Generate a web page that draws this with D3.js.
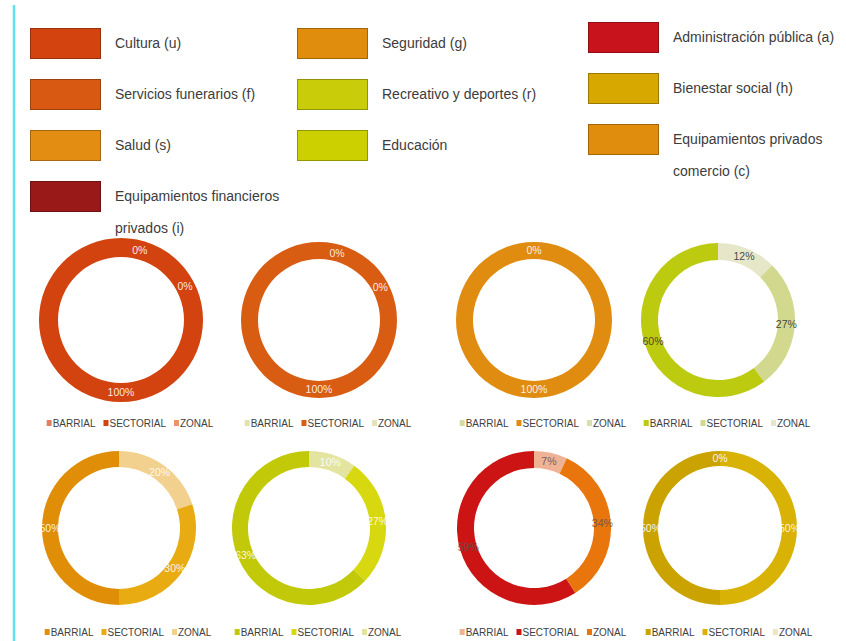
<!DOCTYPE html>
<html>
<head>
<meta charset="utf-8">
<script src="https://cdn.jsdelivr.net/npm/d3@7"></script>
<style>
  body { margin: 0; background: #ffffff; }
  svg { display: block; }
  text { font-family: "Liberation Sans", Arial, sans-serif; }
</style>
</head>
<body>
<svg id="chart" width="846" height="641"></svg>
<script>
// ---- Data -------------------------------------------------------------
// Equipment categories shown in the main legend
const categories = [
  "Cultura (u)", "Servicios funerarios (f)", "Salud (s)",
  "Equipamientos financieros\nprivados (i)",
  "Seguridad (g)", "Recreativo y deportes (r)", "Educación",
  "Administración pública (a)", "Bienestar social (h)",
  "Equipamientos privados\ncomercio (c)"
];
const categoryColors = [
  "#d2430f", "#d85a12", "#e38e12", "#991818",
  "#e08c0c", "#c9cc08", "#cdd000",
  "#c8121c", "#d6a800", "#e08c0c"
];

// Scale levels, in legend order
const levels = ["BARRIAL", "SECTORIAL", "ZONAL"];

// Share (%) of each level, ordered as levels: BARRIAL, SECTORIAL, ZONAL
const cultura        = [0, 100, 0];
const funerarios     = [0, 100, 0];
const salud          = [0, 100, null];
const recreativo     = [60.2, 27.4, 12.4];
const seguridad      = [50, 30, 20];
const educacion      = [63, 27, 10];
const administracion = [7, 59, 34];
const bienestar      = [50, 50, 0];

// ---- Styles -------------------------------------------------------------
const culturaColors        = ["#e0805a", "#d2430f", "#e8946c"];
const funerariosColors     = ["#e6dfb0", "#d85c12", "#e4e2b8"];
const saludColors          = ["#d4dca4", "#e08c10", "#d6dfae"];
const recreativoColors     = ["#bccb10", "#d2d98e", "#e6e6c8"];
const seguridadColors      = ["#e08e08", "#e8ab12", "#f2d08e"];
const educacionColors      = ["#c2c908", "#d8d810", "#e2e4a0"];
const administracionColors = ["#f0b294", "#cc1414", "#e8760c"];
const bienestarColors      = ["#cba300", "#d8b204", "#efe6c0"];

// Clockwise drawing order of the slices, starting at twelve o'clock
const orderDefault = ["ZONAL", "SECTORIAL", "BARRIAL"];
const orderAdmin   = ["BARRIAL", "ZONAL", "SECTORIAL"];

const panels = [
  { values: cultura,        colors: culturaColors,        order: orderDefault, label: "#ffffff", row: 0, col: 0, outer: 82, inner: 63 },
  { values: funerarios,     colors: funerariosColors,     order: orderDefault, label: "#ffffff", row: 0, col: 1, outer: 78, inner: 61 },
  { values: salud,          colors: saludColors,          order: orderDefault, label: "#ffffff", row: 0, col: 2, outer: 78, inner: 61 },
  { values: recreativo,     colors: recreativoColors,     order: orderDefault, label: "#333333", row: 0, col: 3, outer: 77, inner: 60 },
  { values: seguridad,      colors: seguridadColors,      order: orderDefault, label: "#ffffff", row: 1, col: 0, outer: 77, inner: 61 },
  { values: educacion,      colors: educacionColors,      order: orderDefault, label: "#ffffff", row: 1, col: 1, outer: 77, inner: 61 },
  { values: administracion, colors: administracionColors, order: orderAdmin,   label: "#6b5050", row: 1, col: 2, outer: 77, inner: 60 },
  { values: bienestar,      colors: bienestarColors,      order: orderDefault, label: "#ffffff", row: 1, col: 3, outer: 77, inner: 62 }
];

// ---- Layout -------------------------------------------------------------
const svg = d3.select("#chart");
const colX = [[121, 319, 534, 718], [119, 309, 534, 720]];
const rowY = [320, 528];
const legendRowY = [423, 632];

// Cyan margin rule on the left
svg.append("line")
  .attr("x1", 14).attr("x2", 14).attr("y1", 5).attr("y2", 641)
  .attr("stroke", "#62e2ec").attr("stroke-width", 2.5);

// ---- Main legend (three columns) ----------------------------------------
const legendCols = [
  { x: 30,  y0: 28, items: [0, 1, 2, 3] },
  { x: 297, y0: 28, items: [4, 5, 6] },
  { x: 588, y0: 22, items: [7, 8, 9] }
];
const rowStep = 51;
legendCols.forEach(col => {
  col.items.forEach((idx, i) => {
    const g = svg.append("g")
      .attr("transform", `translate(${col.x},${col.y0 + i * rowStep})`);
    g.append("rect")
      .attr("x", 0.5).attr("y", 0.5)
      .attr("width", 70).attr("height", 30)
      .attr("fill", categoryColors[idx])
      .attr("stroke", d3.color(categoryColors[idx]).darker(0.9))
      .attr("stroke-width", 1);
    const lines = categories[idx].split("\n");
    lines.forEach((ln, k) => {
      g.append("text")
        .attr("x", 85).attr("y", 15 + k * 32)
        .attr("dy", "0.35em")
        .attr("font-size", 14)
        .attr("fill", "#3c3c3c")
        .text(ln);
    });
  });
});

// ---- Donuts -------------------------------------------------------------
const pie = d3.pie().sort(null).value(d => d.value);
const fmt = d3.format(".0%");
const deg = Math.PI / 180;

panels.forEach(p => {
  const cx = colX[p.row][p.col], cy = rowY[p.row];
  const g = svg.append("g").attr("transform", `translate(${cx},${cy})`);
  const colorOf = d3.scaleOrdinal().domain(levels).range(p.colors);

  const rows = p.order
    .map(lv => ({ level: lv, value: p.values[levels.indexOf(lv)] }))
    .filter(d => d.value !== null && d.value !== undefined);
  const total = d3.sum(rows, d => d.value);
  const arcs = pie(rows);
  const arc = d3.arc().innerRadius(p.inner).outerRadius(p.outer);

  g.selectAll("path.slice")
    .data(arcs)
    .join("path")
    .attr("class", "slice")
    .attr("d", arc)
    .attr("fill", d => colorOf(d.data.level));

  // Label angles: slice midpoints; coincident empty slices fan out clockwise
  const labels = arcs.map(a => ({
    text: fmt(a.data.value / total),
    angle: ((a.startAngle + a.endAngle) / 2) % (2 * Math.PI),
    zero: a.data.value === 0
  }));
  const zeroGroups = d3.group(labels.filter(l => l.zero), l => Math.round(l.angle / deg));
  zeroGroups.forEach(group => {
    if (group.length > 1) group.forEach((l, k) => { l.angle = l.angle + (15 + 47 * k) * deg; });
  });

  const rm = (p.inner + p.outer) / 2;
  g.selectAll("text.val")
    .data(labels)
    .join("text")
    .attr("class", "val")
    .attr("x", d => rm * Math.sin(d.angle))
    .attr("y", d => -rm * Math.cos(d.angle))
    .attr("dy", "0.35em")
    .attr("text-anchor", "middle")
    .attr("font-size", 10.5)
    .attr("fill", p.label)
    .attr("fill-opacity", 0.9)
    .text(d => d.text);

  // Small legend under each donut
  const lg = svg.append("g");
  let x = 0;
  levels.forEach((lv, i) => {
    const it = lg.append("g");
    it.append("rect").attr("x", 0).attr("y", -3).attr("width", 5).attr("height", 6)
      .attr("fill", p.colors[i]);
    const t = it.append("text").attr("x", 6).attr("dy", "0.35em")
      .attr("font-size", 10).attr("fill", "#404040").text(lv);
    const w = 6 + t.node().getComputedTextLength();
    it.attr("transform", `translate(${x},0)`);
    x += w + 8;
  });
  const totalW = x - 8;
  lg.attr("transform", `translate(${cx + 9 - totalW / 2},${legendRowY[p.row]})`);
});
</script>
</body>
</html>
